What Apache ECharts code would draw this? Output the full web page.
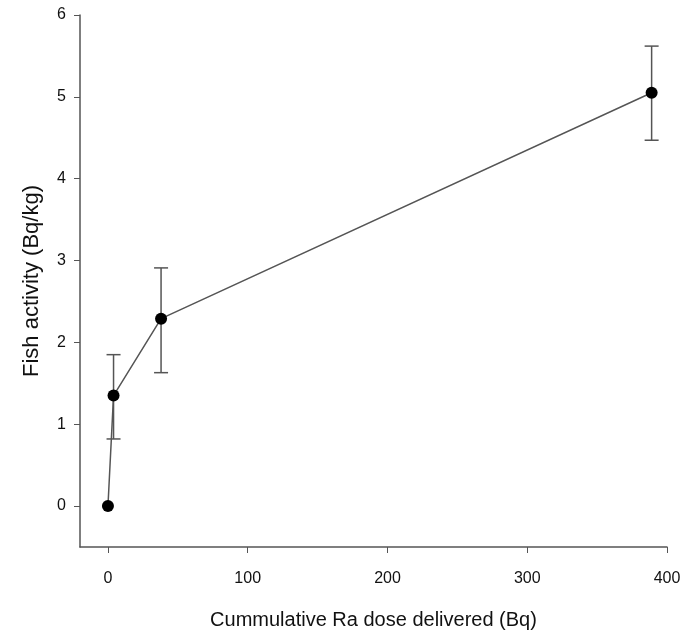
<!DOCTYPE html>
<html><head><meta charset="utf-8">
<script src="https://cdn.jsdelivr.net/npm/echarts@6/dist/echarts.min.js"></script>
<style>html,body{margin:0;padding:0;background:#fff}#c{width:691px;height:635px}</style>
</head><body><div id="c"></div>
<script>
const doseX = [0, 4, 38, 389];
const activity = [0, 1.35, 2.29, 5.05];
const errLow = [0, 0.82, 1.63, 4.47];
const errHigh = [0, 1.85, 2.91, 5.62];
const xTicks = [0, 100, 200, 300, 400];
const yTicks = [0, 1, 2, 3, 4, 5, 6];

const chart = echarts.init(document.getElementById('c'), null, {renderer: 'canvas'});
const font = 'Liberation Sans, Arial, sans-serif';
const errData = doseX.map((x, i) => [x, errLow[i], errHigh[i]]).filter((d, i) => errHigh[i] > errLow[i]);
chart.setOption({
  animation: false,
  grid: {left: 80, right: 24, top: 15, bottom: 87},
  xAxis: {
    type: 'value', min: -20, max: 400,
    name: 'Cummulative Ra dose delivered (Bq)', nameLocation: 'middle', nameGap: 63,
    nameTextStyle: {fontFamily: font, fontSize: 20, color: '#111'},
    axisLine: {onZero: false, lineStyle: {color: '#555', width: 1.5}},
    axisTick: {show: true, length: 6, customValues: xTicks, lineStyle: {color: '#555'}},
    axisLabel: {customValues: xTicks, margin: 24, fontFamily: font, fontSize: 16, color: '#111'},
    splitLine: {show: false}
  },
  yAxis: {
    type: 'value', min: -0.5, max: 6,
    name: 'Fish activity (Bq/kg)', nameLocation: 'middle', nameGap: 37,
    nameTextStyle: {fontFamily: font, fontSize: 22, color: '#111'},
    axisLine: {show: true, onZero: false, lineStyle: {color: '#555', width: 1.5}},
    axisTick: {show: true, length: 6, customValues: yTicks, lineStyle: {color: '#555'}},
    axisLabel: {customValues: yTicks, margin: 14, fontFamily: font, fontSize: 16, color: '#111'},
    splitLine: {show: false}
  },
  series: [
    {
      type: 'custom',
      data: errData,
      z: 1,
      renderItem: function (params, api) {
        const x = api.value(0);
        const lo = api.coord([x, api.value(1)]);
        const hi = api.coord([x, api.value(2)]);
        const w = 7;
        const st = {stroke: '#555', lineWidth: 1.5};
        return {type: 'group', children: [
          {type: 'line', shape: {x1: lo[0], y1: lo[1], x2: hi[0], y2: hi[1]}, style: st},
          {type: 'line', shape: {x1: lo[0]-w, y1: lo[1], x2: lo[0]+w, y2: lo[1]}, style: st},
          {type: 'line', shape: {x1: hi[0]-w, y1: hi[1], x2: hi[0]+w, y2: hi[1]}, style: st}
        ]};
      }
    },
    {
      type: 'line',
      data: doseX.map((x, i) => [x, activity[i]]),
      z: 2,
      symbol: 'circle', symbolSize: 12,
      itemStyle: {color: '#000'},
      lineStyle: {color: '#555', width: 1.5}
    }
  ]
});
</script></body></html>
